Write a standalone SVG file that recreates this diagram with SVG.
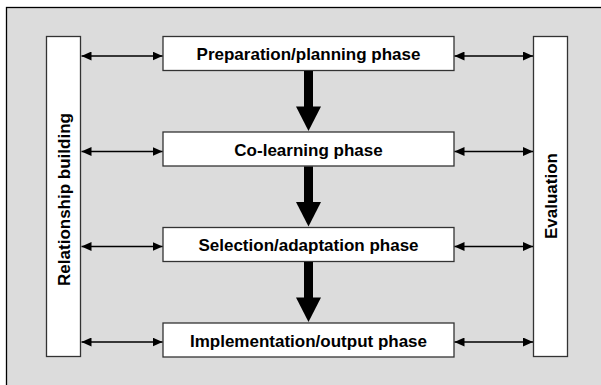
<svg xmlns="http://www.w3.org/2000/svg" width="601" height="385" viewBox="0 0 601 385">
<defs>
<style>
.panel{fill:#dcdcdc;stroke:#000;stroke-width:1.3}
.box{fill:#fff;stroke:#333;stroke-width:1.3}
.lbl{font-family:"Liberation Sans",Arial,sans-serif;font-weight:bold;font-size:17px;fill:#000;text-anchor:middle}
.thin{stroke:#000;stroke-width:1.4;fill:none;marker-start:url(#ah);marker-end:url(#ah)}
.shaft{fill:#000}
</style>
<marker id="ah" viewBox="0 0 10 9" refX="10" refY="4.5" markerWidth="10" markerHeight="9" markerUnits="userSpaceOnUse" orient="auto-start-reverse">
<path d="M0,0 L10,4.5 L0,9 Z" fill="#000"/>
</marker>
</defs>
<rect width="601" height="385" fill="#fff"/>
<rect class="panel" x="6.5" y="7.5" width="700" height="500"/>

<g id="relationship-building">
<rect class="box" x="46.5" y="36.5" width="34" height="320"/>
<text class="lbl" transform="translate(69.8,199.5) rotate(-90)">Relationship building</text>
</g>
<g id="evaluation">
<rect class="box" x="533.5" y="36.5" width="34" height="320"/>
<text class="lbl" transform="translate(556.8,196) rotate(-90)">Evaluation</text>
</g>

<g id="preparation">
<rect class="box" x="163" y="36.5" width="291" height="34"/>
<text class="lbl" x="308.5" y="59.7">Preparation/planning phase</text>
</g>
<g id="colearning">
<rect class="box" x="163" y="132" width="291" height="34"/>
<text class="lbl" x="308.5" y="155.5">Co-learning phase</text>
</g>
<g id="selection">
<rect class="box" x="163" y="227.5" width="291" height="34"/>
<text class="lbl" x="308.5" y="251">Selection/adaptation phase</text>
</g>
<g id="implementation">
<rect class="box" x="163" y="323" width="291" height="34"/>
<text class="lbl" x="308.5" y="346.5">Implementation/output phase</text>
</g>

<g id="connectors">
<line class="thin" x1="81.5" y1="56" x2="162.5" y2="56"/>
<line class="thin" x1="81.5" y1="151.5" x2="162.5" y2="151.5"/>
<line class="thin" x1="81.5" y1="246.5" x2="162.5" y2="246.5"/>
<line class="thin" x1="81.5" y1="342" x2="162.5" y2="342"/>
<line class="thin" x1="454.5" y1="56" x2="533" y2="56"/>
<line class="thin" x1="454.5" y1="151.5" x2="533" y2="151.5"/>
<line class="thin" x1="454.5" y1="246.5" x2="533" y2="246.5"/>
<line class="thin" x1="454.5" y1="342" x2="533" y2="342"/>

<rect class="shaft" x="304" y="71" width="9" height="36"/>
<path class="shaft" d="M296,106.5 L321,106.5 L308.5,131 Z"/>
<rect class="shaft" x="304" y="166.5" width="9" height="36"/>
<path class="shaft" d="M296,202 L321,202 L308.5,226.5 Z"/>
<rect class="shaft" x="304" y="262" width="9" height="36"/>
<path class="shaft" d="M296,297.5 L321,297.5 L308.5,322 Z"/>
</g>
</svg>
